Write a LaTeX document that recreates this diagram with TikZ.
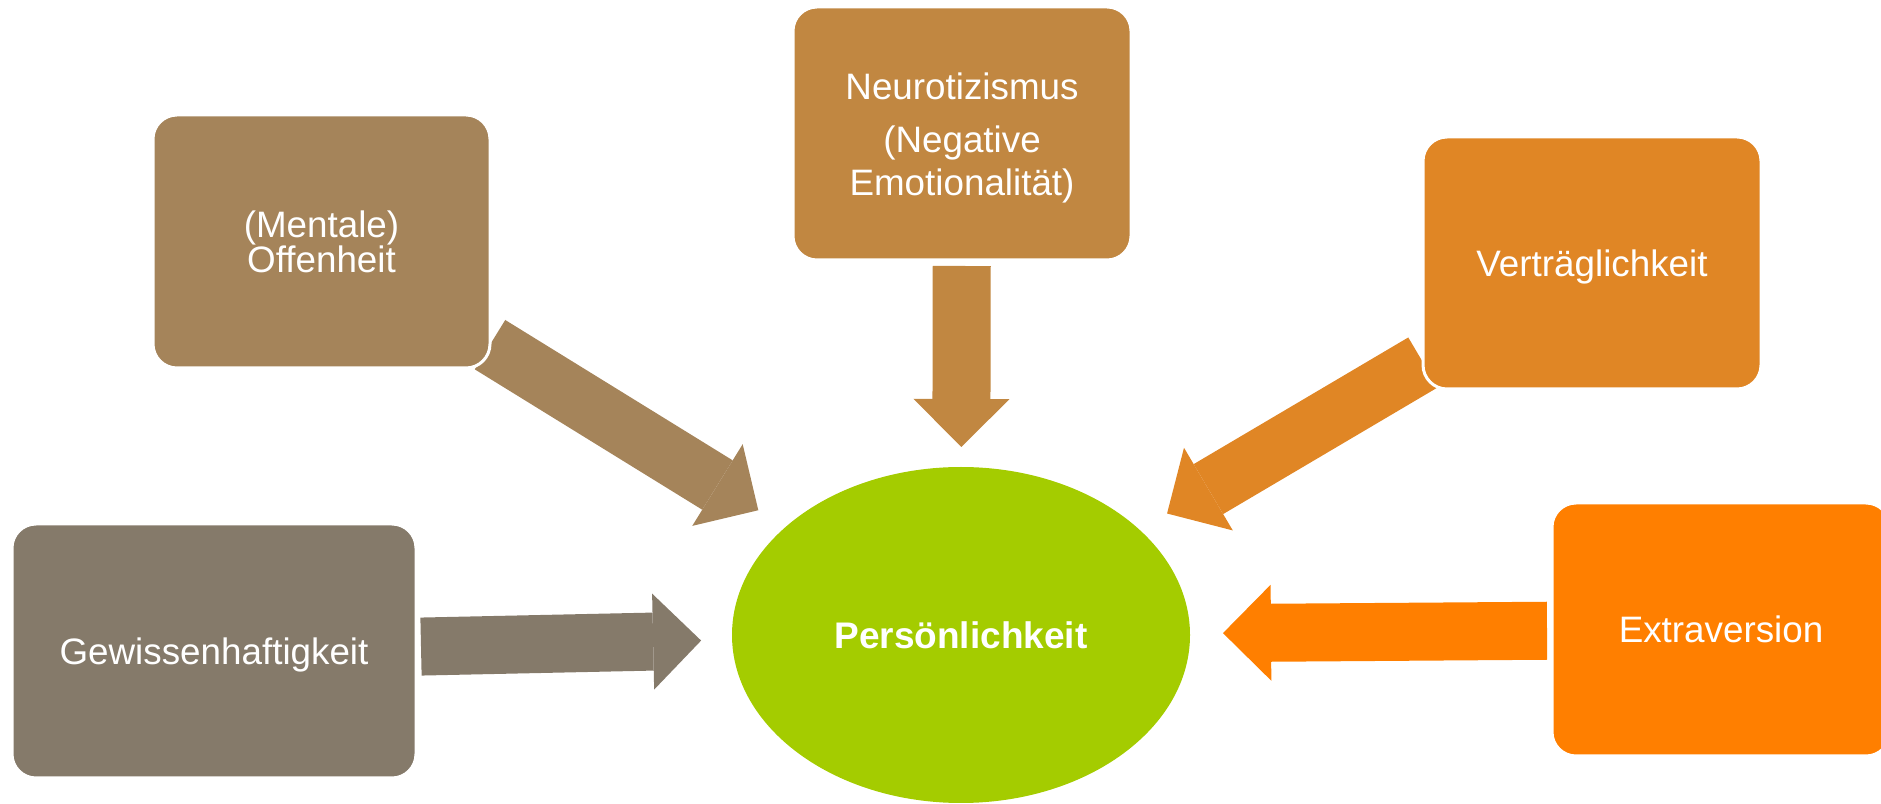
\documentclass[tikz,border=0pt]{standalone}
\usepackage{fontspec}
\setmainfont{Liberation Sans}
\usepackage{tikz}
\usetikzlibrary{arrows.meta,shapes.geometric,backgrounds}
\definecolor{offencol}{RGB}{165,132,90}
\definecolor{neurocol}{RGB}{193,135,65}
\definecolor{vertrcol}{RGB}{224,134,37}
\definecolor{gewisscol}{RGB}{133,122,106}
\definecolor{extracol}{RGB}{255,127,0}
\definecolor{perscol}{RGB}{164,204,0}

\begin{document}
\begin{tikzpicture}[line join=miter,
	trait/.style={draw=white,line width=3bp,rounded corners=24bp,minimum width=338bp,minimum height=253bp,inner sep=0pt,outer sep=0pt,align=center,text=white,font=\fontsize{36.8bp}{30bp}\selectfont},
	oneline/.style={text height=26.5bp,text depth=0bp},
	blockarrow/.style={line width=58bp,-{Triangle[length=48bp,width=96bp,line width'=0bp]}},
	]
		\useasboundingbox (0bp,0bp) rectangle (1881bp,804bp);
		%%
		\node (pers) at (961bp,169bp) [ellipse,fill=perscol,minimum width=458bp,minimum height=336bp,inner sep=0pt,outer sep=0pt,text=white,font=\bfseries\fontsize{37bp}{40bp}\selectfont,oneline] {Persönlichkeit};
		  \node (offen) at (321.5bp,562.5bp) [trait,fill=offencol,minimum width=337bp] {(Mentale)\\Offenheit};
		  \node (neuro) at (962bp,670.5bp) [trait,fill=neurocol,font=\fontsize{36.8bp}{43bp}\selectfont] {\rule{0pt}{35bp}Neurotizismus\\[10bp](Negative\\Emotionalität)};
		  \node (vertr) at (1592bp,541bp) [trait,fill=vertrcol,minimum height=252bp,oneline] {Verträglichkeit};
		  \node (gewiss) at (214bp,153bp) [trait,fill=gewisscol,minimum width=404bp,minimum height=254bp,oneline] {Gewissenhaftigkeit};
		  \node (extra) at (1721bp,174.5bp) [trait,fill=extracol,oneline] {Extraversion};
		%
		\begin{pgfonlayer}{background}
		  \draw [blockarrow,offencol,shorten >=32bp] (offen) -- (pers);
		  \draw [blockarrow,neurocol,shorten <=6bp,shorten >=20bp] (neuro) -- (pers);
		  \draw [blockarrow,vertrcol,shorten >=32bp] (vertr) -- (pers);
		  \draw [blockarrow,gewisscol,shorten <=5bp,shorten >=31bp] (gewiss) -- (pers);
		  \draw [blockarrow,extracol,shorten <=5bp,shorten >=33bp] (extra) -- (pers);
		\end{pgfonlayer}
		%
	\end{tikzpicture}
\end{document}
